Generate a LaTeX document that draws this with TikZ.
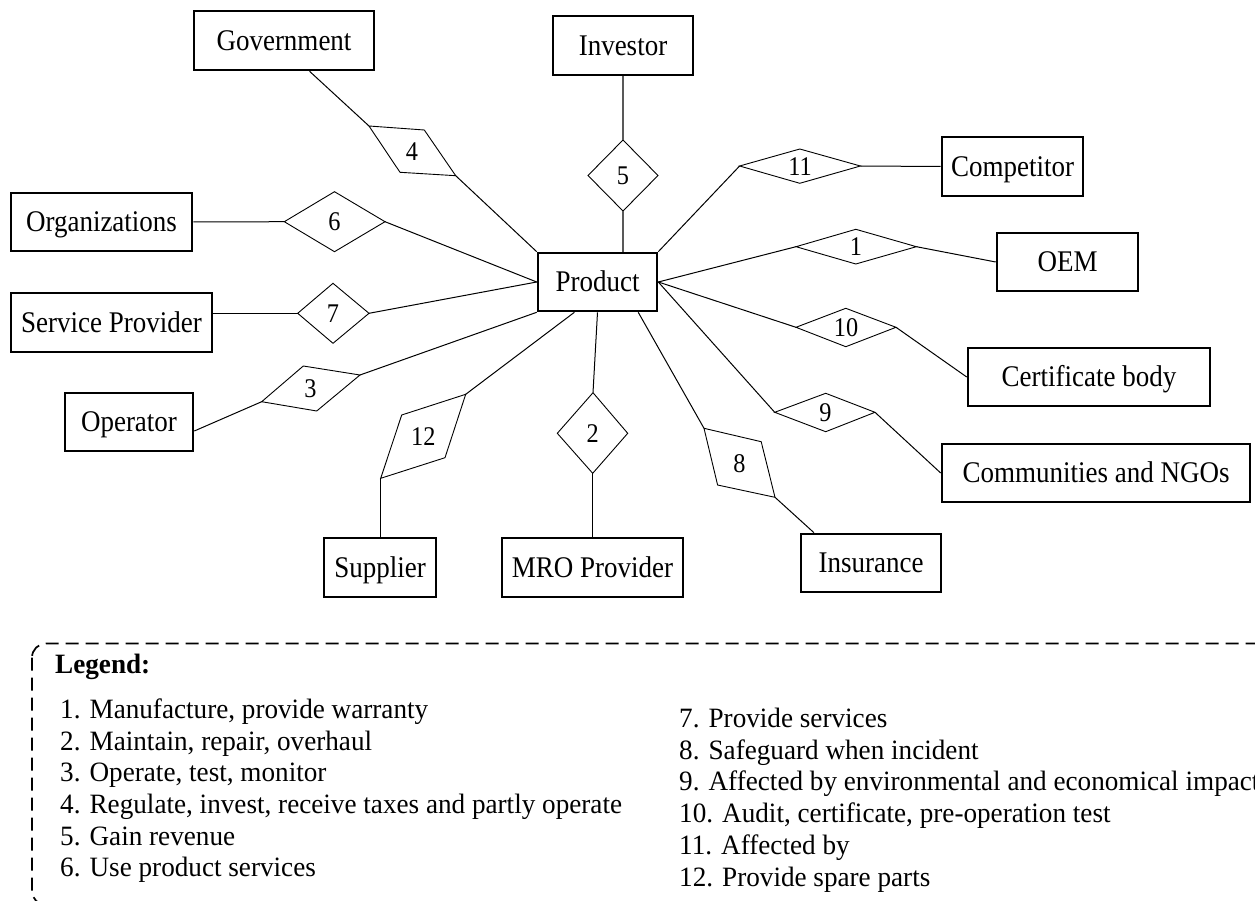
\documentclass[tikz,border=0pt]{standalone}
\usepackage{fontspec}
\setmainfont{Liberation Serif}
\newfontfamily\boxfont{Liberation Serif}[FakeStretch=0.9]
\newfontfamily\legfont{Liberation Serif}[FakeStretch=0.97]
\usetikzlibrary{calc}

% relationship diamond: name, entity-side vertex, product-side vertex,
% the two side vertices, label, label position
\newcommand\reldiamond[7]{%
  \coordinate (#1a) at (#2);
  \coordinate (#1b) at (#3);
  \coordinate (#1c) at (#4);
  \coordinate (#1d) at (#5);
  \draw[rel] (#1a) -- (#1c) -- (#1b) -- (#1d) -- cycle;
  \node[relnum] (#1n) at (#7) {#6};%
}

\begin{document}
\begin{tikzpicture}[x=1pt,y=-1pt,
  entity/.style={draw, line width=2.6pt, inner sep=0pt,
    text height=19.8pt, text depth=0pt,
    font=\boxfont\fontsize{30}{35}\selectfont},
  rel/.style={line width=0.9pt, line join=miter},
  relnum/.style={inner sep=0pt, text height=18.2pt, text depth=0pt,
    font=\boxfont\fontsize{27}{32}\selectfont},
  link/.style={line width=1pt},
  softlink/.style={line width=1.2pt, draw=black!65},
  legtext/.style={anchor=base west, inner sep=0pt,
    font=\legfont\fontsize{28}{32}\selectfont}]

\useasboundingbox (0,0) rectangle (1255,901);
\clip (0,0) rectangle (1255,901);

% ---- entities ----
\node[entity, minimum width=180pt, minimum height=59pt] (gov)  at (284,40.5)   {Government};
\node[entity, minimum width=140pt, minimum height=59pt] (inv)  at (623,45.5)   {Investor};
\node[entity, minimum width=119pt, minimum height=58pt] (prod) at (597.5,282)  {Product};
\node[entity, minimum width=181pt, minimum height=58pt] (org)  at (101.5,222)  {Organizations};
\node[entity, minimum width=201pt, minimum height=59pt] (sp)   at (111.5,322.5){Service Provider};
\node[entity, minimum width=128pt, minimum height=58pt] (op)   at (129,422)    {Operator};
\node[entity, minimum width=112pt, minimum height=59pt] (sup)  at (380,567.5)  {Supplier};
\node[entity, minimum width=181pt, minimum height=59pt] (mro)  at (592.5,567.5){MRO Provider};
\node[entity, minimum width=140pt, minimum height=58pt] (ins)  at (871,563)    {Insurance};
\node[entity, minimum width=308pt, minimum height=58pt] (comm) at (1096,473)   {Communities and NGOs};
\node[entity, minimum width=242pt, minimum height=58pt] (cert) at (1089,377)   {Certificate body};
\node[entity, minimum width=141pt, minimum height=58pt] (oem)  at (1067.5,262) {OEM};
\node[entity, minimum width=141pt, minimum height=59pt] (comp) at (1012.5,166.5){Competitor};

% ---- relationships ----
\reldiamond{d4}{369,126}{455.7,175.7}{424.3,130}{400,172.3}{4}{412,151.5}
\reldiamond{d5}{623,140}{623,211}{588,175.5}{658,175.5}{5}{623,175.5}
\reldiamond{d6}{284.3,221.7}{385,221.7}{334.5,191.7}{334.5,251.7}{6}{334.5,221.7}
\reldiamond{d7}{297.7,313.3}{369,313.3}{333,283.3}{333,343.3}{7}{333,313.3}
\reldiamond{d3}{261.7,401.7}{360,375}{303.3,366}{316.7,411}{3}{310.5,388.5}
\reldiamond{d12}{380.7,478.3}{465.7,394.3}{401.7,415}{445,457.7}{12}{423.3,436.3}
\reldiamond{d2}{592.7,473.3}{593,392.7}{557.3,433.3}{627.7,433.3}{2}{592.7,433}
\reldiamond{d8}{775,497.3}{704,428.3}{761.2,441.7}{717.6,485}{8}{739.5,463}
\reldiamond{d9}{875,412.3}{774.7,412.3}{825.7,393.3}{825.7,431.7}{9}{825.5,412.5}
\reldiamond{d10}{896,327.3}{796,327.3}{845.8,308.3}{845.8,346.7}{10}{846,327.5}
\reldiamond{d1}{916.4,246.7}{796,246.7}{855.8,229.3}{855.8,264}{1}{856,246.7}
\reldiamond{d11}{860.4,166}{739.6,166}{799.8,149}{799.8,183.3}{11}{800,166.3}

% ---- connectors: entity -> diamond -> product ----
\draw[link] ($(gov.south west)!0.64!(gov.south east)$) -- (d4a);
\draw[link] (d4b) -- (prod.north west);

\draw[softlink] (inv.south) -- (d5a);
\draw[softlink] (d5b) -- (d5b |- prod.north);

\draw[link] (org.east) -- (d6a);
\draw[link] (d6b) -- (prod.west);

\draw[link] (d7a -| sp.east) -- (d7a);
\draw[link] (d7b) -- (prod.west);

\draw[link] ($(op.east)+(0,9)$) -- (d3a);
\draw[link] (d3b) -- (prod.south west);

\draw[link] (d12a |- sup.north) -- (d12a);
\draw[link] (d12b) -- ($(prod.south west)!0.31!(prod.south east)$);

\draw[link] (d2a |- mro.north) -- (d2a);
\draw[link] (d2b) -- (prod.south);

\draw[link] ($(ins.north west)!0.1!(ins.north east)$) -- (d8a);
\draw[link] (d8b) -- ($(prod.south west)!0.835!(prod.south east)$);

\draw[link] (comm.west) -- (d9a);
\draw[link] (d9b) -- (prod.east);

\draw[link] (cert.west) -- (d10a);
\draw[link] (d10b) -- (prod.east);

\draw[link] (oem.west) -- (d1a);
\draw[link] (d1b) -- (prod.east);

\draw[link] (comp.west) -- (d11a);
\draw[link] (d11b) -- (prod.north east);

% ---- legend ----
\draw[line width=1.7pt, dash pattern=on 13pt off 7pt, rounded corners=14pt]
  (32,643.5) rectangle (1300,905);

\node[legtext, font=\legfont\bfseries\fontsize{28}{32}\selectfont] (leghead) at (55,673) {Legend:};

\node[legtext] (leg1) at (60,718.3) {1. Manufacture, provide warranty};
\node[legtext] (leg2) at (60,750.0) {2. Maintain, repair, overhaul};
\node[legtext] (leg3) at (60,781.7) {3. Operate, test, monitor};
\node[legtext] (leg4) at (60,813.4) {4. Regulate, invest, receive taxes and partly operate};
\node[legtext] (leg5) at (60,845.1) {5. Gain revenue};
\node[legtext] (leg6) at (60,876.8) {6. Use product services};

\node[legtext] (leg7)  at (679,727.3) {7. Provide services};
\node[legtext] (leg8)  at (679,759.1) {8. Safeguard when incident};
\node[legtext] (leg9)  at (679,790.9) {9. Affected by environmental and economical impacts};
\node[legtext] (leg10) at (679,822.7) {10. Audit, certificate, pre-operation test};
\node[legtext] (leg11) at (679,854.5) {11. Affected by};
\node[legtext] (leg12) at (679,886.3) {12. Provide spare parts};

\end{tikzpicture}
\end{document}
